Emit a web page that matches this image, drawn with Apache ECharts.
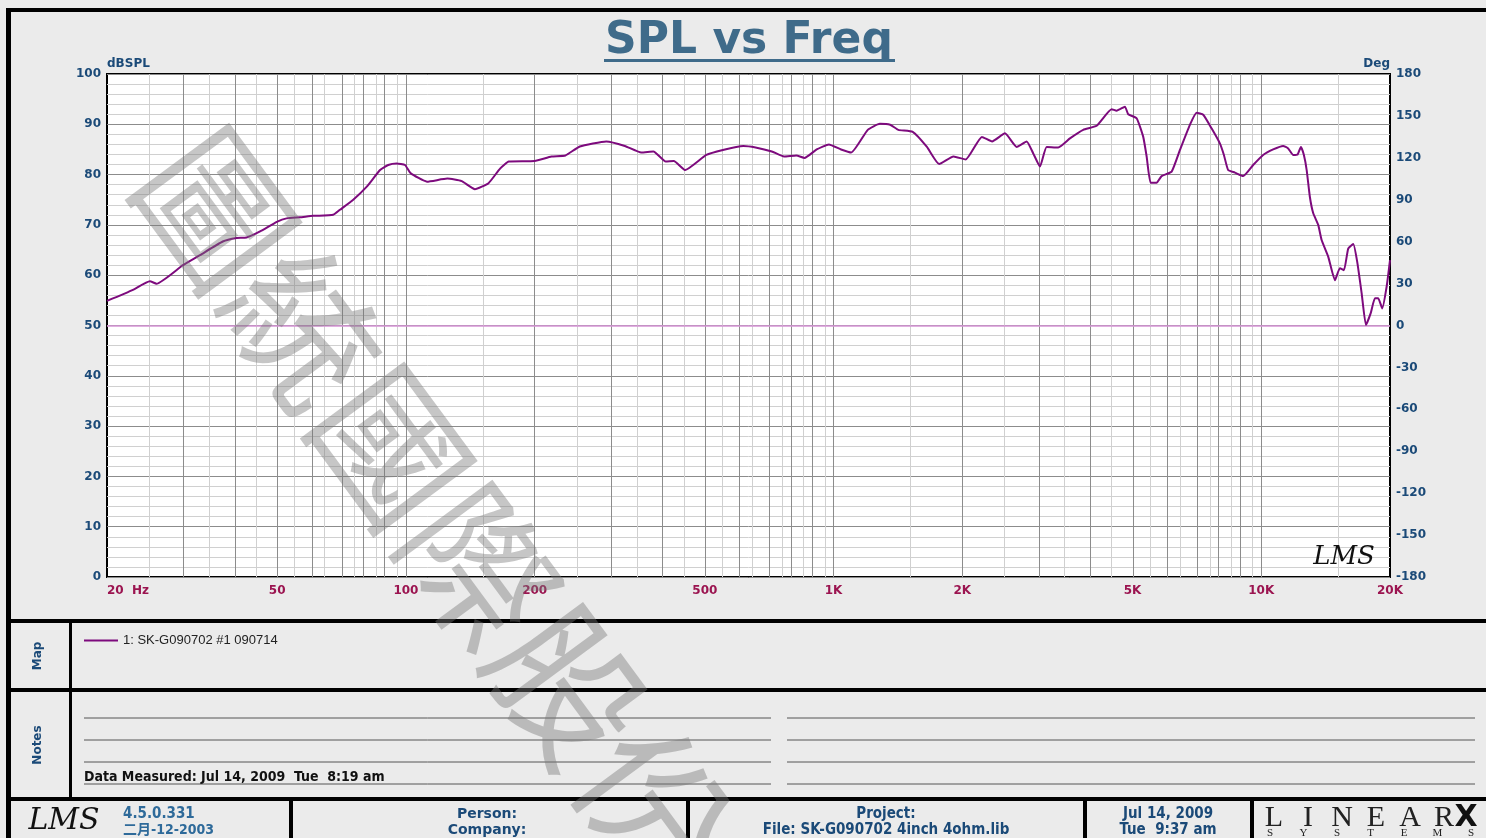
<!DOCTYPE html>
<html>
<head>
<meta charset="utf-8">
<title>SPL vs Freq</title>
<script src="https://cdn.jsdelivr.net/npm/echarts@6/dist/echarts.min.js"></script>
<style>
  html, body { margin: 0; padding: 0; background: #ebebeb; }
  #chart { width: 1486px; height: 838px; }
</style>
</head>
<body>
<div id="chart"></div>
<script>
// measured response, Hz / dBSPL
const freq = [
  20, 23, 25.2, 26.1, 30.1, 33, 37.3, 40.2, 42.4, 45.6,
  49.9, 52.6, 56.5, 60.7, 67.6, 70.1, 75.3, 81, 87, 90.9,
  95.1, 99.5, 102.5, 112, 125, 135, 145, 156, 166, 174,
  200, 219, 236, 255, 294, 325, 355, 379, 405, 423,
  450, 504, 551, 615, 657, 717, 766, 818, 855, 913,
  975, 1041, 1100, 1202, 1283, 1356, 1417, 1531, 1653, 1765,
  1907, 2036, 2222, 2348, 2516, 2680, 2828, 2930, 3038, 3149,
  3352, 3570, 3834, 4121, 4468, 4590, 4800, 4886, 5112, 5297,
  5395, 5512, 5692, 5848, 6173, 6454, 6810, 7060, 7316, 7652,
  8002, 8178, 8368, 8676, 9072, 9572, 10100, 10660, 11250, 11560,
  11880, 12160, 12380, 12580, 12770, 12990, 13230, 13590, 13840, 14340,
  14870, 15270, 15610, 15970, 16410, 16760, 17170, 17570, 18020, 18440,
  18770, 19180, 19640, 20000
]
const spl = [
  54.9, 57.1, 58.8, 58.3, 62.0, 64.0, 66.7, 67.4, 67.5, 68.7,
  70.6, 71.3, 71.5, 71.8, 72.0, 73.0, 75.0, 77.6, 80.9, 81.9,
  82.2, 81.9, 80.3, 78.6, 79.2, 78.7, 77.1, 78.3, 81.2, 82.6,
  82.7, 83.6, 83.8, 85.6, 86.6, 85.7, 84.4, 84.6, 82.6, 82.7,
  80.9, 83.9, 84.9, 85.7, 85.4, 84.6, 83.6, 83.8, 83.3, 85.0,
  86.0, 85.0, 84.4, 88.9, 90.1, 89.9, 88.9, 88.5, 85.5, 82.1,
  83.6, 83.0, 87.5, 86.6, 88.2, 85.5, 86.6, 84.2, 81.6, 85.5,
  85.4, 87.2, 88.9, 89.7, 93.0, 92.7, 93.5, 92.0, 91.2, 87.5,
  83.6, 78.4, 78.4, 79.7, 80.6, 84.9, 89.9, 92.3, 91.9, 89.2,
  86.2, 83.9, 80.9, 80.4, 79.7, 81.9, 83.9, 85.0, 85.7, 85.2,
  83.9, 84.0, 85.5, 83.9, 80.9, 75.6, 72.3, 70.0, 67.0, 63.7,
  59.0, 61.4, 61.0, 65.3, 66.2, 62.7, 56.4, 50.1, 52.4, 55.4,
  55.4, 53.4, 57.7, 63.0
]
const seriesName = '1: SK-G090702 #1 090714'

// x tick labels
const xTickFreqs = [20, 50, 100, 200, 500, 1000, 2000, 5000, 10000, 20000]
const xTickLabels = ['20  Hz', '50', '100', '200', '500', '1K', '2K', '5K', '10K', '20K']

// vertical grid: 1..9 x decade dark, halves light
const gridDark = []
const gridLight = []
;[10, 100, 1000, 10000].forEach(d => {
  for (let m = 1; m <= 9; m++) {
    if (m * d > 20 && m * d < 20000) gridDark.push(m * d)
    if ((m + 0.5) * d > 20 && (m + 0.5) * d < 20000) gridLight.push((m + 0.5) * d)
  }
})

const blue = '#1b4a78'
const red = '#9b1450'
const bold = 'DejaVu Sans'
const narrow = '"Liberation Sans Narrow", "DejaVu Sans Condensed", sans-serif'

const lg = Math.log10
const chart = echarts.init(document.getElementById('chart'))

function rect (x, y, w, h, fill) {
  return { type: 'rect', shape: { x, y, width: w, height: h }, style: { fill: fill || '#000' }, silent: true }
}
function line (x1, y1, x2, y2, color) {
  return { type: 'line', shape: { x1, y1, x2, y2 }, style: { stroke: color || '#555', lineWidth: 1 }, silent: true }
}
function text (x, y, t, opt) {
  return {
    type: 'text',
    x,
    y,
    rotation: (opt && opt.rotation) || 0,
    silent: true,
    z: (opt && opt.z) || 10,
    style: Object.assign({
      text: t,
      fill: blue,
      font: 'bold 14px ' + bold,
      align: 'center',
      verticalAlign: 'middle'
    }, opt && opt.style)
  }
}

const graphics = [
  // frame and panel separators
  rect(6, 8, 1480, 4),
  rect(6, 8, 5, 830),
  rect(6, 619, 1480, 4),
  rect(6, 688, 1480, 4),
  rect(6, 797, 1480, 4),
  rect(69, 621, 3, 178),
  rect(289, 799, 4, 40),
  rect(686, 799, 4, 40),
  rect(1083, 799, 4, 40),
  rect(1250, 799, 4, 40),
  // title
  text(749, 42, 'SPL vs Freq', { style: { font: 'bold 44px ' + bold, fill: '#3f6b8a' } }),
  rect(604, 59, 291, 3, '#3f6b8a'),
  // plot logo
  text(1344, 557, 'LMS', { style: { font: 'italic 26px "DejaVu Serif"', fill: '#111' } }),
  // side labels
  text(38, 656, 'Map', { rotation: Math.PI / 2, style: { font: 'bold 12px ' + bold } }),
  text(38, 745, 'Notes', { rotation: Math.PI / 2, style: { font: 'bold 12px ' + bold } }),
  // notes
  line(84, 718, 771, 718), line(84, 740, 771, 740), line(84, 762, 771, 762), line(84, 784, 771, 784),
  line(787, 718, 1475, 718), line(787, 740, 1475, 740), line(787, 762, 1475, 762), line(787, 784, 1475, 784),
  text(84, 777, 'Data Measured: Jul 14, 2009  Tue  8:19 am', { style: { font: 'bold 14px ' + narrow, fill: '#111', align: 'left' } }),
  // footer
  text(64, 821, 'LMS', { style: { font: 'italic 30px "DejaVu Serif"', fill: '#111' } }),
  text(123, 814, '4.5.0.331', { style: { font: 'bold 15px ' + narrow, fill: '#2e6a9a', align: 'left' } }),
  text(123, 830, '二月-12-2003', { style: { font: 'bold 14px ' + narrow + ', "Noto Sans CJK SC"', fill: '#2e6a9a', align: 'left' } }),
  text(487, 814, 'Person:'),
  text(487, 830, 'Company:'),
  text(886, 814, 'Project:', { style: { font: 'bold 15px ' + narrow } }),
  text(886, 830, 'File: SK-G090702 4inch 4ohm.lib', { style: { font: 'bold 15px ' + narrow } }),
  text(1168, 814, 'Jul 14, 2009', { style: { font: 'bold 15px ' + narrow } }),
  text(1168, 830, 'Tue  9:37 am', { style: { font: 'bold 15px ' + narrow } })
]

// LINEARX logo letters
'LINEAR'.split('').forEach((c, i) => {
  graphics.push(text(1274 + i * 34, 818, c, { style: { font: '30px "Liberation Serif"', fill: '#222' } }))
})
graphics.push(text(1466, 818, 'X', { style: { font: 'bold 30px "DejaVu Sans"', fill: '#111' } }))
'SYSTEMS'.split('').forEach((c, i) => {
  graphics.push(text(1270 + i * 33.5, 833, c, { style: { font: '11px "Liberation Serif"', fill: '#222' } }))
})

// watermark
graphics.push({
  type: 'text',
  x: 172,
  y: 150,
  rotation: -53.6 * Math.PI / 180,
  silent: true,
  z: 100,
  style: {
    text: '圖統國際股份有限公司',
    font: '148px "Noto Sans CJK TC"',
    fill: 'rgba(120,120,120,0.42)',
    align: 'left',
    verticalAlign: 'middle'
  }
})

chart.setOption({
  animation: false,
  backgroundColor: '#ebebeb',
  legend: {
    left: 79,
    top: 629,
    icon: 'rect',
    itemWidth: 34,
    itemHeight: 2,
    data: [seriesName],
    textStyle: { fontFamily: 'Liberation Sans', fontSize: 13, color: '#222' }
  },
  grid: {
    left: 107,
    top: 74,
    right: 96,
    bottom: 261,
    show: true,
    backgroundColor: '#fff',
    borderColor: '#000',
    borderWidth: 2
  },
  xAxis: {
    type: 'value',
    min: lg(20),
    max: lg(20000),
    axisLine: { show: false },
    axisTick: { show: false },
    splitLine: { show: false },
    axisLabel: {
      customValues: xTickFreqs.map(f => lg(f)),
      alignMinLabel: 'left',
      margin: 8,
      color: red,
      fontFamily: bold,
      fontWeight: 'bold',
      fontSize: 12,
      formatter: v => {
        const i = xTickFreqs.findIndex(f => Math.abs(lg(f) - v) < 1e-6)
        return i < 0 ? '' : xTickLabels[i]
      }
    }
  },
  yAxis: [
    {
      type: 'value',
      min: 0,
      max: 100,
      interval: 10,
      name: 'dBSPL',
      nameLocation: 'end',
      nameGap: 4,
      nameTextStyle: { color: blue, fontFamily: bold, fontWeight: 'bold', fontSize: 12, align: 'left', verticalAlign: 'bottom' },
      axisLine: { show: false },
      axisTick: { show: false },
      axisLabel: { color: blue, fontFamily: bold, fontWeight: 'bold', fontSize: 12, margin: 6 },
      splitLine: { lineStyle: { color: '#8c8c8c', width: 1 } },
      minorTick: { show: false, splitNumber: 5 },
      minorSplitLine: { show: true, lineStyle: { color: '#d0d0d0', width: 1 } }
    },
    {
      type: 'value',
      min: -180,
      max: 180,
      interval: 30,
      name: 'Deg',
      nameLocation: 'end',
      nameGap: 4,
      nameTextStyle: { color: blue, fontFamily: bold, fontWeight: 'bold', fontSize: 12, align: 'right', verticalAlign: 'bottom' },
      axisLine: { show: false },
      axisTick: { show: false },
      splitLine: { show: false },
      axisLabel: { color: blue, fontFamily: bold, fontWeight: 'bold', fontSize: 12, margin: 6 }
    }
  ],
  series: [
    {
      name: 'grid',
      type: 'line',
      data: [],
      z: 1,
      silent: true,
      markLine: {
        silent: true,
        symbol: ['none', 'none'],
        label: { show: false },
        animation: false,
        data: [
          ...gridLight.map(f => ({ xAxis: lg(f), lineStyle: { color: '#d0d0d0', width: 1, type: 'solid' } })),
          ...gridDark.map(f => ({ xAxis: lg(f), lineStyle: { color: '#8c8c8c', width: 1, type: 'solid' } })),
          { yAxis: 50, lineStyle: { color: '#d794d7', width: 1.5, type: 'solid' } }
        ]
      }
    },
    {
      name: seriesName,
      type: 'line',
      z: 5,
      symbol: 'none',
      smooth: 0.15,
      color: '#7d0a7d',
      lineStyle: { color: '#7d0a7d', width: 2 },
      data: freq.map((f, i) => [lg(f), spl[i]])
    }
  ],
  graphic: graphics
})
</script>
</body>
</html>
